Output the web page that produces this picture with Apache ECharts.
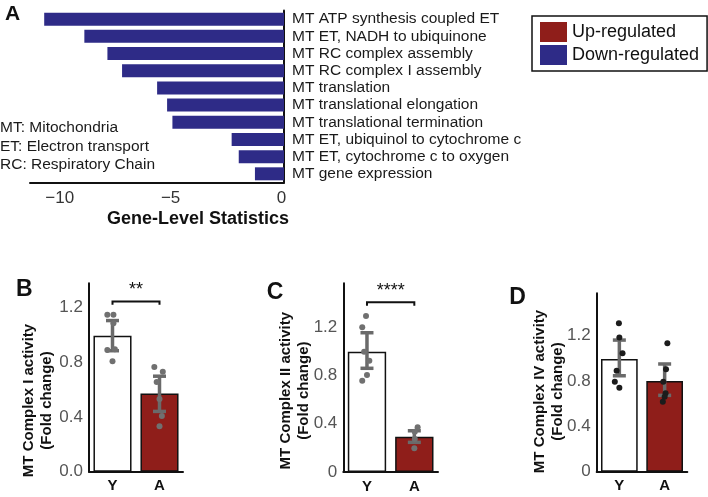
<!DOCTYPE html>
<html>
<head>
<meta charset="utf-8">
<script src="https://cdn.jsdelivr.net/npm/echarts@6/dist/echarts.min.js"></script>
<style>html,body{margin:0;padding:0;background:#fff}#chart{width:708px;height:497px}</style>
</head>
<body>
<div id="chart"></div>
<script>
// ---------- Panel A data ----------
const pathways = [
  'MT ATP synthesis coupled ET',
  'MT ET, NADH to ubiquinone',
  'MT RC complex assembly',
  'MT RC complex I assembly',
  'MT translation',
  'MT translational elongation',
  'MT translational termination',
  'MT ET, ubiquinol to cytochrome c',
  'MT ET, cytochrome c to oxygen',
  'MT gene expression'
];
const geneStats = [-10.81, -9.0, -7.96, -7.3, -5.72, -5.27, -5.03, -2.36, -2.04, -1.31];
const geneTicks = [-10, -5, 0];
const legendNames = ['Up-regulated', 'Down-regulated'];
const abbreviations = ['MT: Mitochondria', 'ET: Electron transport', 'RC: Respiratory Chain'];

// ---------- Panels B-D data ----------
const groups = ['Y', 'A'];
const activityTicks = [0, 0.4, 0.8, 1.2];

const c1Mean = [0.993, 0.570];
const c1Lower = [0.883, 0.440];
const c1Upper = [1.103, 0.697];
const c1DotsY = [1.145, 1.145, 1.084, 0.888, 0.893, 0.807];
const c1JitY  = [-0.11, 0.02, 0.02, -0.11, 0.05, 0.0];
const c1DotsA = [0.765, 0.729, 0.655, 0.530, 0.406, 0.332];
const c1JitA  = [-0.11, 0.07, -0.06, 0.0, 0.05, 0.0];

const c2Mean = [0.998, 0.293];
const c2Lower = [0.860, 0.246];
const c2Upper = [1.155, 0.342];
const c2DotsY = [1.294, 1.200, 0.998, 0.923, 0.804, 0.757];
const c2JitY  = [-0.02, -0.10, -0.06, 0.05, 0.0, -0.10];
const c2DotsA = [0.371, 0.334, 0.274, 0.197];
const c2JitA  = [0.07, 0.01, 0.01, 0.0];

const c4Mean = [0.995, 0.800];
const c4Lower = [0.847, 0.674];
const c4Upper = [1.162, 0.951];
const c4DotsY = [1.310, 1.184, 1.045, 0.891, 0.794, 0.741];
const c4JitY  = [-0.01, 0.0, 0.07, -0.06, -0.10, 0.0];
const c4DotsA = [1.133, 0.904, 0.794, 0.692, 0.662, 0.618];
const c4JitA  = [0.06, 0.03, -0.03, 0.02, 0.0, -0.04];

const sigB = {label: '**', y: 1.242, tick: 1.218};
const sigC = {label: '****', y: 1.407, tick: 1.379};

// ---------- styling ----------
const FONT = '"Liberation Sans", Arial, Helvetica, sans-serif';
const NAVY = '#2e2b87';
const RED = '#8f1e1a';
const ERR = '#6a6a6a';

const chart = echarts.init(document.getElementById('chart'), null, {renderer: 'canvas'});

function errRender(params, api) {
  const cat = api.value(0);
  const x = api.coord([cat, 0])[0];
  const lo = api.coord([cat, api.value(1)])[1];
  const hi = api.coord([cat, api.value(2)])[1];
  const hw = 6.5;
  const st = {stroke: ERR, lineWidth: 3.5};
  return {type: 'group', children: [
    {type: 'line', shape: {x1: x, y1: hi, x2: x, y2: lo}, style: st},
    {type: 'line', shape: {x1: x - hw, y1: hi, x2: x + hw, y2: hi}, style: st},
    {type: 'line', shape: {x1: x - hw, y1: lo, x2: x + hw, y2: lo}, style: st}
  ]};
}
function sigRender(sig) {
  return function (params, api) {
    const p0 = api.coord([api.value(0), api.value(2)]);
    const p1 = api.coord([api.value(1), api.value(2)]);
    const yt = api.coord([api.value(0), api.value(3)])[1];
    return {type: 'group', children: [
      {type: 'polyline', shape: {points: [[p0[0], yt], [p0[0], p0[1]], [p1[0], p1[1]], [p1[0], yt]]},
        style: {stroke: '#111', lineWidth: 2, fill: null}},
      {type: 'text', style: {text: sig.label, x: (p0[0] + p1[0]) / 2, y: p0[1] - 2,
        align: 'center', verticalAlign: 'bottom', font: '18px ' + FONT, fill: '#111'}}
    ]};
  };
}
function dots(vY, jY, vA, jA) {
  return vY.map((v, i) => [0 + jY[i], v]).concat(vA.map((v, i) => [1 + jA[i], v]));
}
function barData(means) {
  return [
    {value: means[0], itemStyle: {color: '#ffffff'}},
    {value: means[1], itemStyle: {color: RED}}
  ];
}

const grids = [
  {left: 30, right: 424, top: 10.6, bottom: 497 - 182.4},
  {left: 89, width: 94, top: 283.3, bottom: 497 - 471.7},
  {left: 343.3, width: 94.7, top: 283.3, bottom: 497 - 472},
  {left: 596.7, width: 90.6, top: 293.3, bottom: 497 - 471.7}
];
grids.forEach(g => { g.containLabel = false; g.outerBoundsMode = 'none'; });

function catX(gi) {
  return {type: 'category', gridIndex: gi, data: groups,
    axisLine: {show: true, onZero: false, lineStyle: {color: '#111', width: 2}},
    axisTick: {show: false},
    axisLabel: {interval: 0, fontFamily: FONT, fontSize: 15, fontWeight: 'bold', color: '#111', margin: 7}};
}
function valX(gi) {
  return {type: 'value', gridIndex: gi, min: -0.5, max: 1.5, show: false};
}
function valY(gi, max, name, zeroFmt, gap, shift) {
  return {type: 'value', gridIndex: gi, min: 0, max: max,
    name: name, nameLocation: 'middle', nameRotate: 90, nameGap: gap,
    nameMoveOverlap: false,
    nameTextStyle: {fontFamily: FONT, fontSize: 15, fontWeight: 'bold', color: '#111', lineHeight: 18,
      padding: [0, 2 * shift, 0, 0]},
    axisLine: {show: true, onZero: false, lineStyle: {color: '#111', width: 2}},
    axisTick: {show: false}, splitLine: {show: false},
    axisLabel: {customValues: activityTicks, fontFamily: FONT, fontSize: 17, color: '#555', margin: 6,
      formatter: v => (v === 0 ? zeroFmt : v.toFixed(1))}};
}

const option = {
  animation: false,
  backgroundColor: '#fff',
  grid: grids,
  legend: {
    data: legendNames, orient: 'vertical', left: 532, top: 16,
    padding: [6, 8, 6, 8], itemGap: 3, itemWidth: 27, itemHeight: 20, icon: 'rect',
    borderColor: '#111', borderWidth: 1.5, selectedMode: false,
    textStyle: {fontFamily: FONT, fontSize: 18, color: '#111'}
  },
  xAxis: [
    {type: 'value', gridIndex: 0, min: -11.45, max: 0,
      axisLine: {show: true, onZero: false, lineStyle: {color: '#111', width: 2}},
      axisTick: {show: false}, splitLine: {show: false},
      axisLabel: {customValues: geneTicks, fontFamily: FONT, fontSize: 17, color: '#333', margin: 7,
        padding: [0, 5, 0, 0],
        formatter: v => (v < 0 ? '\u2212' + Math.abs(v) : String(v))}},
    catX(1), valX(1), catX(2), valX(2), catX(3), valX(3)
  ],
  yAxis: [
    {type: 'category', gridIndex: 0, data: pathways, inverse: true, position: 'right',
      axisLine: {show: true, onZero: false, lineStyle: {color: '#111', width: 2}},
      axisTick: {show: false},
      axisLabel: {interval: 0, fontFamily: FONT, fontSize: 15.5, color: '#1a1a1a', margin: 8}},
    valY(1, 1.375, 'MT Complex I activity\n(Fold change)', '0.0', 33, 23),
    valY(2, 1.565, 'MT Complex II activity\n(Fold change)', '0', 30, 13),
    valY(3, 1.575, 'MT Complex IV activity\n(Fold change)', '0', 30, 9)
  ],
  series: [
    {name: 'Up-regulated', type: 'bar', xAxisIndex: 0, yAxisIndex: 0, data: [], barWidth: 13, barGap: '-100%', itemStyle: {color: RED}},
    {name: 'Down-regulated', type: 'bar', xAxisIndex: 0, yAxisIndex: 0, data: geneStats, barWidth: 13, barGap: '-100%', itemStyle: {color: NAVY}},

    {type: 'bar', xAxisIndex: 1, yAxisIndex: 1, data: barData(c1Mean), barWidth: '81%', itemStyle: {borderColor: '#111', borderWidth: 1.5}},
    {type: 'custom', xAxisIndex: 1, yAxisIndex: 1, renderItem: errRender, data: groups.map((g, i) => [i, c1Lower[i], c1Upper[i]]), z: 3},
    {type: 'scatter', xAxisIndex: 2, yAxisIndex: 1, data: dots(c1DotsY, c1JitY, c1DotsA, c1JitA), symbolSize: 6, itemStyle: {color: '#707070', opacity: 1}, z: 4},
    {type: 'custom', xAxisIndex: 1, yAxisIndex: 1, renderItem: sigRender(sigB), data: [[0, 1, sigB.y, sigB.tick]], z: 5},

    {type: 'bar', xAxisIndex: 3, yAxisIndex: 2, data: barData(c2Mean), barWidth: '81%', itemStyle: {borderColor: '#111', borderWidth: 1.5}},
    {type: 'custom', xAxisIndex: 3, yAxisIndex: 2, renderItem: errRender, data: groups.map((g, i) => [i, c2Lower[i], c2Upper[i]]), z: 3},
    {type: 'scatter', xAxisIndex: 4, yAxisIndex: 2, data: dots(c2DotsY, c2JitY, c2DotsA, c2JitA), symbolSize: 6, itemStyle: {color: '#707070', opacity: 1}, z: 4},
    {type: 'custom', xAxisIndex: 3, yAxisIndex: 2, renderItem: sigRender(sigC), data: [[0, 1, sigC.y, sigC.tick]], z: 5},

    {type: 'bar', xAxisIndex: 5, yAxisIndex: 3, data: barData(c4Mean), barWidth: '81%', itemStyle: {borderColor: '#111', borderWidth: 1.5}},
    {type: 'custom', xAxisIndex: 5, yAxisIndex: 3, renderItem: errRender, data: groups.map((g, i) => [i, c4Lower[i], c4Upper[i]]), z: 3},
    {type: 'scatter', xAxisIndex: 6, yAxisIndex: 3, data: dots(c4DotsY, c4JitY, c4DotsA, c4JitA), symbolSize: 6, itemStyle: {color: '#1c1c1c', opacity: 1}, z: 4}
  ],
  graphic: [
    {type: 'text', left: 5, top: 4, style: {text: 'A', font: 'bold 21px ' + FONT, fill: '#111'}},
    {type: 'text', x: 24.2, y: 290, style: {text: 'B', font: 'bold 23px ' + FONT, fill: '#111', align: 'center', verticalAlign: 'middle'}},
    {type: 'text', x: 275, y: 292.5, style: {text: 'C', font: 'bold 23px ' + FONT, fill: '#111', align: 'center', verticalAlign: 'middle'}},
    {type: 'text', x: 517.5, y: 297.5, style: {text: 'D', font: 'bold 23px ' + FONT, fill: '#111', align: 'center', verticalAlign: 'middle'}},
    {type: 'text', x: 0, y: 127.3, style: {text: abbreviations[0], font: '15.5px ' + FONT, fill: '#1a1a1a', verticalAlign: 'middle'}},
    {type: 'text', x: 0, y: 146.7, style: {text: abbreviations[1], font: '15.5px ' + FONT, fill: '#1a1a1a', verticalAlign: 'middle'}},
    {type: 'text', x: 0, y: 164.5, style: {text: abbreviations[2], font: '15.5px ' + FONT, fill: '#1a1a1a', verticalAlign: 'middle'}},
    {type: 'text', x: 198, y: 219, style: {text: 'Gene-Level Statistics', font: 'bold 18px ' + FONT, fill: '#111', align: 'center', verticalAlign: 'middle'}}
  ]
};
chart.setOption(option);
</script>
</body>
</html>
